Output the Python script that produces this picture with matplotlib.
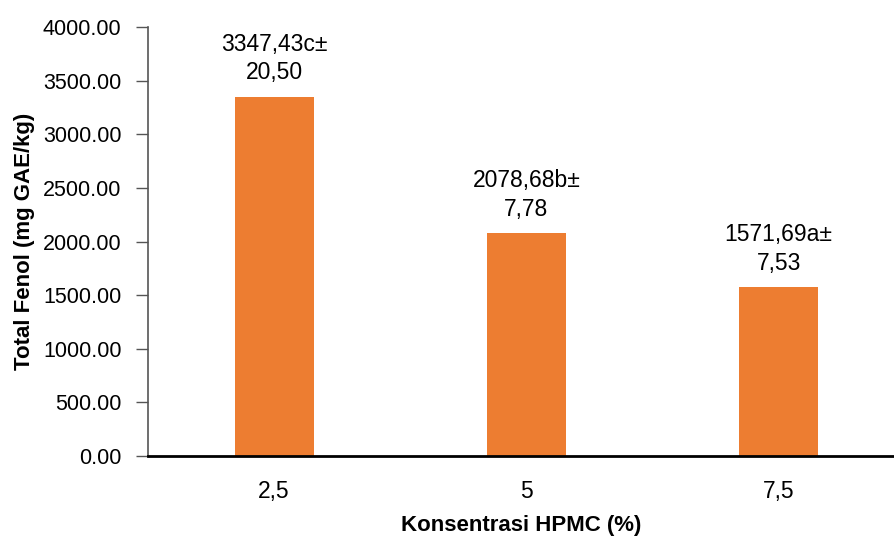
import numpy as np
import matplotlib
matplotlib.use("Agg")
import matplotlib.pyplot as plt

# data
konsentrasi = ["2,5", "5", "7,5"]
total_fenol = [3347.43, 2078.68, 1571.69]
notasi = ["c", "b", "a"]
sd_label = ["20,50", "7,78", "7,53"]
mean_label = ["3347,43", "2078,68", "1571,69"]

plt.rcParams["font.family"] = ["Liberation Sans", "DejaVu Sans"]

fig = plt.figure(figsize=(8.95, 5.39), dpi=100)
ax = fig.add_axes([148 / 895, 1 - 456 / 539, (895 - 148) / 895, 429 / 539])

x = np.arange(len(konsentrasi))
ax.bar(x, total_fenol, width=0.313, color="#ED7D31", zorder=2)

for xi, v, m, n, s in zip(x, total_fenol, mean_label, notasi, sd_label):
    ax.annotate(f"{m}{n}±\n{s}", (xi, v), xytext=(0, 9), textcoords="offset points",
                ha="center", va="bottom", fontsize=16.5, linespacing=1.32)

ax.set_xlim(-0.5, -0.5 + 747 / 252.25)
ax.set_ylim(0, 4000)
ax.set_yticks(np.arange(0, 4001, 500))
ax.set_yticklabels([f"{t:.2f}" for t in np.arange(0, 4001, 500)], fontsize=15.5)
ax.set_xticks(x)
ax.set_xticklabels(konsentrasi, fontsize=16.5)

ax.tick_params(axis="x", length=0, pad=17)
ax.tick_params(axis="y", length=9, width=1, color="#555555", pad=10)

for sp in ["top", "right"]:
    ax.spines[sp].set_visible(False)
ax.spines["left"].set_color("#555555")
ax.spines["left"].set_linewidth(1.2)
ax.spines["bottom"].set_color("black")
ax.spines["bottom"].set_linewidth(2)
ax.spines["bottom"].set_zorder(3)

ax.set_xlabel("Konsentrasi HPMC (%)", fontsize=16, fontweight="bold")
ax.set_ylabel("Total Fenol (mg GAE/kg)", fontsize=16, fontweight="bold")
ax.xaxis.set_label_coords(0.5, (456 - 525) / 429)
ax.xaxis.label.set_va("center")
ax.yaxis.set_label_coords((25 - 148) / 747, (456 - 241) / 429)
ax.yaxis.label.set_va("center")

fig.savefig("out.png", dpi=100)
